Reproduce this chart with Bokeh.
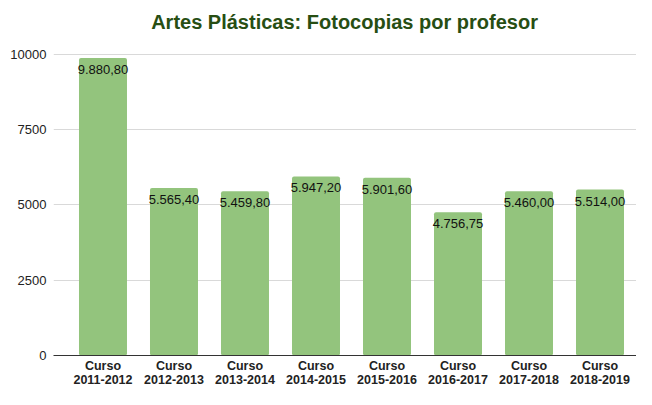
from bokeh.plotting import figure
from bokeh.models import ColumnDataSource, Range1d, FixedTicker, Label
from bokeh.core.properties import value
from bokeh.embed import file_html
from bokeh.resources import INLINE

# ---- data ----
categories = ["Curso\n2011-2012", "Curso\n2012-2013", "Curso\n2013-2014", "Curso\n2014-2015",
              "Curso\n2015-2016", "Curso\n2016-2017", "Curso\n2017-2018", "Curso\n2018-2019"]
values = [9880.80, 5565.40, 5459.80, 5947.20, 5901.60, 4756.75, 5460.00, 5514.00]
y_ticks = [0, 2500, 5000, 7500, 10000]
title_text = "Artes Plásticas: Fotocopias por profesor"


def es_format(v):
    s = f"{v:,.2f}"
    return s.replace(",", "X").replace(".", ",").replace("X", ".")


xs = list(range(len(categories)))
labels = [es_format(v) for v in values]
src = ColumnDataSource(dict(x=xs, top=values, label=labels))

FONT = "Liberation Sans"
X0, X1 = -0.697, 7.514
Y_END = 11794  # headroom above the 10000 gridline holds the title

p = figure(width=636, height=389, output_backend="svg", toolbar_location=None,
           x_range=Range1d(X0, X1), y_range=Range1d(0, Y_END),
           min_border_left=53, min_border_right=0, min_border_top=0, min_border_bottom=20)
p.title = None

p.outline_line_color = None
p.background_fill_color = "white"
p.border_fill_color = "white"

p.vbar(x="x", top="top", width=0.676, bottom=0, source=src,
       fill_color="#93c47d", line_color=None, border_radius=2)

p.text(x="x", y="top", text="label", source=src, text_align="center",
       text_baseline="top", y_offset=7, text_font=value(FONT),
       text_font_size="13px", text_color="#111111")

title = Label(x=3.402, y=10000, y_offset=32, text=title_text,
              text_align="center", text_baseline="middle", text_font=FONT,
              text_font_size="20px", text_font_style="bold", text_color="#274e13")
p.add_layout(title)

# axes
p.xaxis.ticker = FixedTicker(ticks=xs)
p.xaxis.major_label_overrides = {i: c for i, c in enumerate(categories)}
p.xaxis.major_label_text_font = FONT
p.xaxis.major_label_text_font_size = "12.5px"
p.xaxis.major_label_text_font_style = "bold"
p.xaxis.major_label_text_color = "#222222"
p.xaxis.major_label_text_line_height = 1.0
p.xaxis.major_label_standoff = 3
p.xaxis.axis_line_color = "#333333"
p.xaxis.axis_line_width = 1
p.xaxis.major_tick_line_color = None
p.xaxis.minor_tick_line_color = None
p.xaxis.major_tick_out = 0
p.xaxis.major_tick_in = 0

p.yaxis.ticker = FixedTicker(ticks=y_ticks)
p.yaxis.major_label_text_font = FONT
p.yaxis.major_label_text_font_size = "13px"
p.yaxis.major_label_text_color = "#222222"
p.yaxis.major_label_standoff = 7
p.yaxis.axis_line_color = None
p.yaxis.major_tick_line_color = None
p.yaxis.minor_tick_line_color = None
p.yaxis.major_tick_out = 0
p.yaxis.major_tick_in = 0

p.xgrid.grid_line_color = None
p.ygrid.ticker = FixedTicker(ticks=y_ticks[1:])
p.ygrid.grid_line_color = "#d9d9d9"
p.ygrid.grid_line_width = 1

open("out.html", "w").write(file_html(p, INLINE))
